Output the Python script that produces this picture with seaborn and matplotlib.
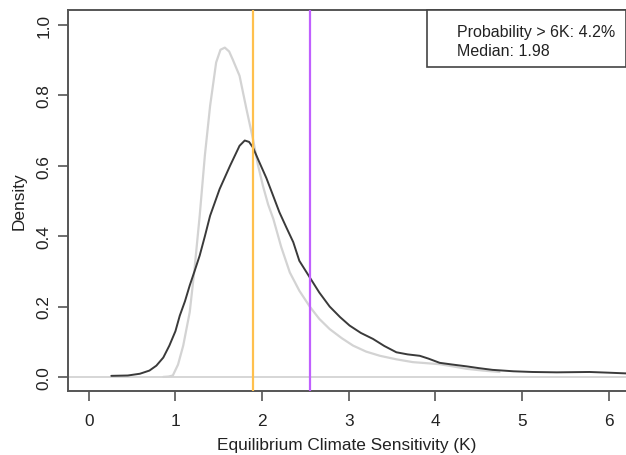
import matplotlib
matplotlib.use("Agg")
import matplotlib.pyplot as plt
import seaborn as sns
import pandas as pd

# Dark curve (posterior density)
dark_x = [0.26, 0.45, 0.59, 0.70, 0.78, 0.86, 0.93, 1.00, 1.05, 1.11, 1.165, 1.22, 1.28, 1.34,
          1.40, 1.51, 1.63, 1.74, 1.80, 1.85, 1.895, 1.96, 2.05, 2.12, 2.20, 2.28, 2.36, 2.43,
          2.55, 2.66, 2.78, 2.90, 3.01, 3.14, 3.28, 3.41, 3.55, 3.68, 3.82, 3.92, 4.05, 4.20,
          4.36, 4.50, 4.66, 4.90, 5.12, 5.40, 5.78, 6.00, 6.20]
dark_y = [0.003, 0.004, 0.009, 0.018, 0.032, 0.055, 0.089, 0.13, 0.174, 0.215, 0.26, 0.30, 0.345,
          0.40, 0.458, 0.534, 0.60, 0.657, 0.672, 0.668, 0.652, 0.615, 0.565, 0.52, 0.468, 0.425,
          0.383, 0.33, 0.283, 0.24, 0.20, 0.17, 0.146, 0.125, 0.108, 0.088, 0.07, 0.064, 0.06,
          0.052, 0.040, 0.035, 0.030, 0.025, 0.020, 0.016, 0.014, 0.013, 0.014, 0.012, 0.01]

# Light curve (comparison density)
light_x = [0.86, 0.92, 0.97, 1.03, 1.09, 1.165, 1.22, 1.28, 1.34, 1.40, 1.47, 1.52, 1.57,
           1.62, 1.66, 1.74, 1.82, 1.895, 1.95, 2.01, 2.07, 2.13, 2.22, 2.32, 2.43, 2.55, 2.66,
           2.78, 2.92, 3.05, 3.20, 3.36, 3.55, 3.74, 3.90, 4.05, 4.20, 4.36, 4.55, 4.74]
light_y = [0.0, 0.001, 0.004, 0.035, 0.089, 0.184, 0.306, 0.458, 0.63, 0.77, 0.894, 0.93, 0.936,
           0.925, 0.903, 0.856, 0.761, 0.676, 0.605, 0.543, 0.49, 0.449, 0.37, 0.297, 0.245, 0.2,
           0.165, 0.136, 0.11, 0.089, 0.072, 0.06, 0.05, 0.042, 0.039, 0.036, 0.03, 0.023, 0.018, 0.014]

vlines_x = [1.89, 2.55]
vline_colors = ["#FFC04D", "#C060FF"]
legend_lines = ["Probability > 6K: 4.2%", "Median: 1.98"]
xticks = [0, 1, 2, 3, 4, 5, 6]
yticks = [0.0, 0.2, 0.4, 0.6, 0.8, 1.0]

sns.set_style("white")
plt.rcParams["font.family"] = ["Liberation Sans", "DejaVu Sans"]

fig = plt.figure(figsize=(6.26, 4.56), dpi=100)
ax = fig.add_axes([0.1086, 0.1404, 0.8914, 0.8355])

df_dark = pd.DataFrame({"x": dark_x, "y": dark_y})
df_light = pd.DataFrame({"x": light_x, "y": light_y})

ax.axhline(0, color="#d0d0d0", lw=1.2, zorder=1)
sns.lineplot(data=df_light, x="x", y="y", ax=ax, color="#d3d3d3", lw=1.6,
             sort=False, estimator=None, zorder=2)
sns.lineplot(data=df_dark, x="x", y="y", ax=ax, color="#3a3a3a", lw=1.4,
             sort=False, estimator=None, zorder=3)
for xv, c in zip(vlines_x, vline_colors):
    ax.axvline(xv, color=c, lw=1.6, zorder=4)

ax.set_xlim(-0.24, 6.2)
ax.set_ylim(-0.04, 1.043)
ax.set_xticks(xticks)
ax.set_xticklabels([str(t) for t in xticks])
ax.set_yticks(yticks)
ax.set_yticklabels([f"{t:.1f}" for t in yticks], rotation=90, va="center")
ax.tick_params(axis="both", direction="out", length=7, width=1.2, color="#555555",
               labelsize=12.4, labelcolor="#222222", pad=9, left=True, bottom=True)
ax.tick_params(axis="y", pad=5)
for s in ["left", "bottom", "top"]:
    ax.spines[s].set_color("#555555")
    ax.spines[s].set_linewidth(1.4)
ax.spines["right"].set_visible(False)

ax.set_xlabel("Equilibrium Climate Sensitivity (K)", fontsize=12.4, color="#222222", labelpad=6)
ax.set_ylabel("Density", fontsize=12.4, color="#222222", labelpad=7)

# legend-style text box
box = plt.Rectangle((427 / 626, 1 - 68 / 456), 1 - 427 / 626, 57 / 456, transform=fig.transFigure,
                    fill=True, facecolor="white", edgecolor="#444444", lw=1.2, zorder=5)
fig.patches.append(box)
fig.text(457 / 626, 1 - 32 / 456, legend_lines[0], fontsize=11.5, color="#222222",
         va="center", zorder=6)
fig.text(457 / 626, 1 - 51 / 456, legend_lines[1], fontsize=11.5, color="#222222",
         va="center", zorder=6)

fig.savefig("out.png", dpi=100)
